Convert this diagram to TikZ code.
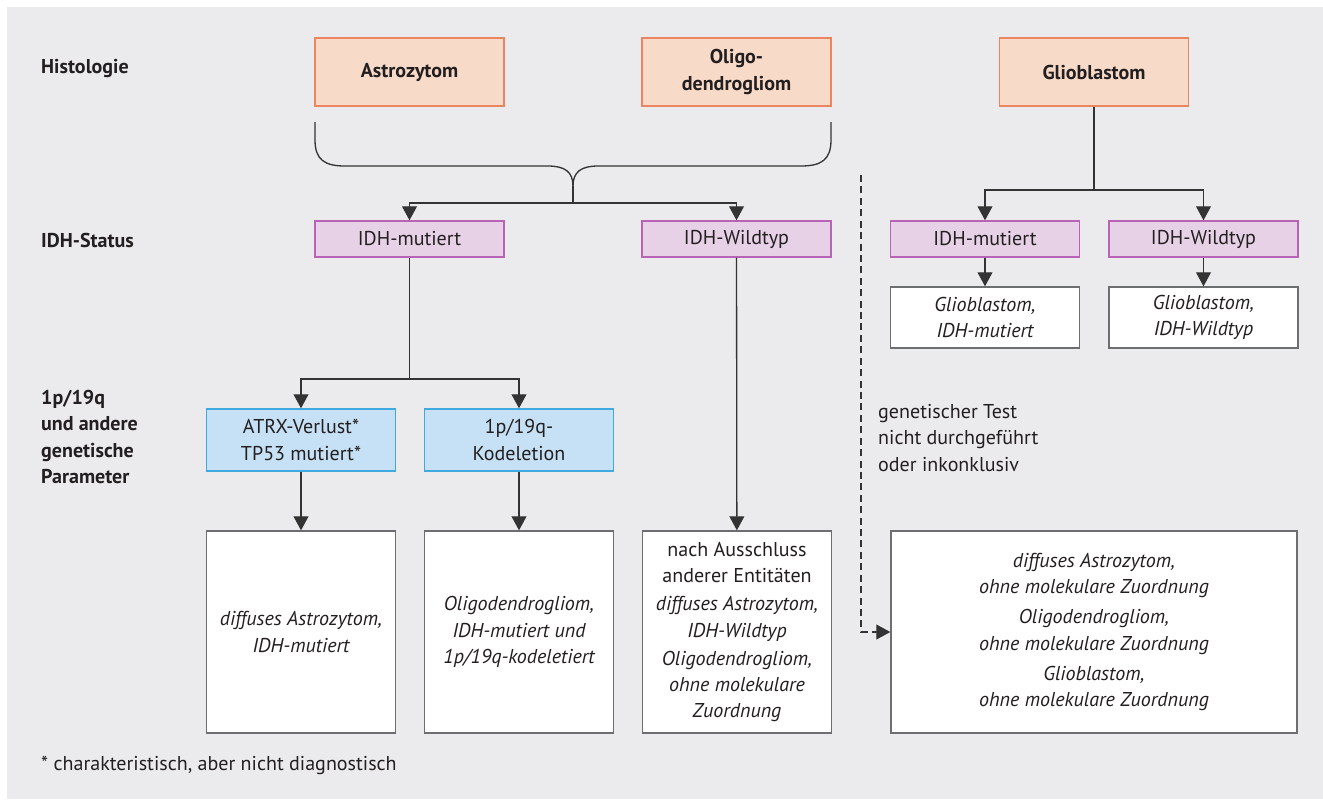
\documentclass[tikz,border=0pt]{standalone}
\usepackage{fontspec}
\setmainfont{PT Sans}
\usepackage{xcolor}
\definecolor{bggrey}{HTML}{EBEBED}
\definecolor{txtdark}{HTML}{231F20}
\definecolor{linedark}{HTML}{333333}
\definecolor{boxgrey}{HTML}{6D6E70}
\definecolor{histfill}{HTML}{F8DAC8}
\definecolor{histdraw}{HTML}{E98560}
\definecolor{idhfill}{HTML}{E7D1E6}
\definecolor{idhdraw}{HTML}{B863B5}
\definecolor{genfill}{HTML}{C6E1F5}
\definecolor{gendraw}{HTML}{3FA9E0}
\newcommand{\dgfont}{\fontsize{11.4}{15}\selectfont}
\usetikzlibrary{arrows.meta,positioning}

\begin{document}
\begin{tikzpicture}[x=0.02cm, y=-0.02cm, every node/.style={font=\dgfont, text=txtdark},
  bx/.style={draw, minimum width=3.78cm, align=center, line width=0.8pt, inner sep=2pt},
  hist/.style={bx, draw=histdraw, fill=histfill, minimum height=1.36cm, font=\dgfont\bfseries},
  idh/.style={bx, draw=idhdraw, fill=idhfill, minimum height=0.72cm},
  gen/.style={bx, draw=gendraw, fill=genfill, minimum height=1.24cm},
  res/.style={bx, draw=boxgrey, fill=white, font=\dgfont\itshape},
  lbl/.style={anchor=west, align=left, font=\dgfont\bfseries},
  ln/.style={draw=linedark, line width=0.75pt},
  arr/.style={ln, -{Triangle[width=8.5pt,length=8pt]}}]
\useasboundingbox (0,0) rectangle (1323,799);
\fill[bggrey] (7,7) rectangle (1323,799);
% Row labels
\node[lbl] (lhist) at (35,68) {Histologie};
\node[lbl] (lidh) at (35,240) {IDH-Status};
\node[lbl] (lgen) at (35,437) {1p/19q\\und andere\\genetische\\Parameter};
% Histologie
\node[hist] (astro) at (409.5,72) {Astrozytom};
\node[hist] (oligo) at (736.5,72) {Oligo-\\dendrogliom};
\node[hist] (glio) at (1094,72) {Glioblastom};
% IDH-Status
\node[idh] (idhm) at (409.5,239) {IDH-mutiert};
\node[idh] (idhw) at (736.5,239) {IDH-Wildtyp};
\node[idh] (gidhm) at (985,239) {IDH-mutiert};
\node[idh] (gidhw) at (1203.5,239) {IDH-Wildtyp};
\node[res, minimum height=1.22cm] (gresm) at (985,317.5) {Glioblastom,\\IDH-mutiert};
\node[res, minimum height=1.22cm] (gresw) at (1203.5,317.5) {Glioblastom,\\IDH-Wildtyp};
% genetische Parameter
\node[gen] (atrx) at (301,440) {ATRX-Verlust*\\TP53 mutiert*};
\node[gen] (kodel) at (519,440) {1p/19q-\\Kodeletion};
% Ergebnisse
\node[res, minimum height=4.04cm] (resa) at (301,632) {diffuses Astrozytom,\\IDH-mutiert};
\node[res, minimum height=4.04cm] (reso) at (519,632) {Oligodendrogliom,\\IDH-mutiert und\\1p/19q-kodeletiert};
\node[res, minimum height=4.04cm] (resw) at (737,632) {\upshape nach Ausschluss\\\upshape anderer Entitäten\\[1pt]diffuses Astrozytom,\\IDH-Wildtyp\\[1pt]Oligodendrogliom,\\ohne molekulare\\Zuordnung};
\node[res, minimum height=4.04cm, minimum width=8.12cm] (resn) at (1094,632) {diffuses Astrozytom,\\ohne molekulare Zuordnung\\[2pt]Oligodendrogliom,\\ohne molekulare Zuordnung\\[2pt]Glioblastom,\\ohne molekulare Zuordnung};
\node[anchor=west, align=left] (test) at (872,438) {genetischer Test\\nicht durchgeführt\\oder inkonklusiv};
% Klammer
\draw[ln] (315,122) -- (315,140) .. controls (315,160) and (325,166) .. (345,166) -- (548,166)
  .. controls (565,166) and (573,172) .. (573,186);
\draw[ln] (831,122) -- (831,140) .. controls (831,160) and (821,166) .. (801,166) -- (598,166)
  .. controls (581,166) and (573,172) .. (573,186);
\coordinate (brace) at (573,186);
\coordinate (split) at (573,203);
\coordinate (gsplit) at (1094,190);
\coordinate (msplit) at (409.5,379);
\coordinate (dtop) at (861,175);
% Flow
\draw[ln] (brace) -- (split);
\draw[arr] (split) -| (idhm);
\draw[arr] (split) -| (idhw);
\draw[ln] (glio) -- (gsplit);
\draw[arr] (gsplit) -| (gidhm);
\draw[arr] (gsplit) -| (gidhw);
\draw[arr] (gidhm) -- (gresm);
\draw[arr] (gidhw) -- (gresw);
\draw[ln] (idhm) -- (msplit);
\draw[arr] (msplit) -| (atrx);
\draw[arr] (msplit) -| (kodel);
\draw[arr] (atrx) -- (resa);
\draw[arr] (kodel) -- (reso);
\draw[arr] (idhw) -- (resw);
\draw[arr, dash pattern=on 4pt off 2.5pt] (dtop) |- (resn);
% Fussnote
\node[anchor=west] (fn) at (35,765) {* charakteristisch, aber nicht diagnostisch};
\end{tikzpicture}
\end{document}
